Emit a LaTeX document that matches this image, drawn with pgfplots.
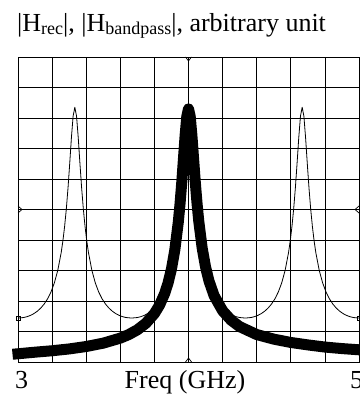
\documentclass[border=0pt]{standalone}
\usepackage{pgfplots}
\pgfplotsset{compat=1.18}
\usepackage{fontspec}
\setmainfont{Liberation Serif}
\newcommand{\sub}[1]{\raisebox{-3pt}{\fontsize{18}{18}\selectfont #1}}
\begin{document}
\begin{tikzpicture}
\begin{axis}[
  at={(0,0)}, anchor=south west,
  scale only axis, width=341pt, height=305pt,
  xmin=3, xmax=5, ymin=0, ymax=10,
  xtick={3,3.2,3.4,3.6,3.8,4,4.2,4.4,4.6,4.8,5},
  ytick={0,1,2,3,4,5,6,7,8,9,10},
  xticklabels={}, yticklabels={},
  major tick length=0pt,
  grid=major,
  major grid style={black, line width=0.8pt},
  axis line style={black, line width=0.9pt},
  clip=false,
]
% thin curve (|H_rec|)
\addplot[black, line width=0.8pt, line join=round] coordinates {
(3.0000,1.4405)(3.0333,1.458)(3.0533,1.486)(3.0733,1.528)(3.0933,1.587)(3.1133,1.665)
(3.1333,1.767)(3.1533,1.899)(3.1733,2.070)(3.1933,2.294)(3.2133,2.594)(3.2333,3.005)
(3.2533,3.587)(3.2633,3.971)(3.2733,4.440)(3.2833,5.011)(3.2933,5.702)(3.3033,6.506)
(3.3133,7.355)(3.3233,8.064)(3.3333,8.35)(3.3433,8.064)(3.3533,7.355)(3.3633,6.506)
(3.3733,5.702)(3.3833,5.011)(3.3933,4.440)(3.4033,3.971)(3.4133,3.587)(3.4333,3.005)
(3.4533,2.594)(3.4733,2.294)(3.4933,2.070)(3.5133,1.899)(3.5333,1.767)(3.5533,1.665)
(3.5733,1.587)(3.5933,1.528)(3.6133,1.486)(3.6333,1.458)(3.6667,1.4405)
(3.7000,1.458)(3.7200,1.486)(3.7400,1.528)(3.7600,1.587)(3.7800,1.665)(3.8000,1.767)
(3.8200,1.899)(3.8400,2.070)(3.8600,2.294)(3.8800,2.594)(3.9000,3.005)(3.9200,3.587)
(3.9300,3.971)(3.9400,4.440)(3.9500,5.011)(3.9600,5.702)(3.9700,6.506)(3.9800,7.355)
(3.9900,8.064)(4.0000,8.35)(4.0100,8.064)(4.0200,7.355)(4.0300,6.506)(4.0400,5.702)
(4.0500,5.011)(4.0600,4.440)(4.0700,3.971)(4.0800,3.587)(4.1000,3.005)(4.1200,2.594)
(4.1400,2.294)(4.1600,2.070)(4.1800,1.899)(4.2000,1.767)(4.2200,1.665)(4.2400,1.587)
(4.2600,1.528)(4.2800,1.486)(4.3000,1.458)(4.3333,1.4405)
(4.3667,1.458)(4.3867,1.486)(4.4067,1.528)(4.4267,1.587)(4.4467,1.665)(4.4667,1.767)
(4.4867,1.899)(4.5067,2.070)(4.5267,2.294)(4.5467,2.594)(4.5667,3.005)(4.5867,3.587)
(4.5967,3.971)(4.6067,4.440)(4.6167,5.011)(4.6267,5.702)(4.6367,6.506)(4.6467,7.355)
(4.6567,8.064)(4.6667,8.35)(4.6767,8.064)(4.6867,7.355)(4.6967,6.506)(4.7067,5.702)
(4.7167,5.011)(4.7267,4.440)(4.7367,3.971)(4.7467,3.587)(4.7667,3.005)(4.7867,2.594)
(4.8067,2.294)(4.8267,2.070)(4.8467,1.899)(4.8667,1.767)(4.8867,1.665)(4.9067,1.587)
(4.9267,1.528)(4.9467,1.486)(4.9667,1.458)(5.0000,1.4405)
};
% end markers of thin curve
\addplot[black, only marks, mark=square, mark size=2pt, mark options={line width=0.6pt, fill=white}] coordinates {(3,1.4405)(5,1.4405)};
% thick curve (|H_bandpass|)
\addplot[black, line width=11pt, line join=round, line cap=rect] coordinates {
(3.00,0.27)(3.10,0.322)(3.20,0.369)(3.30,0.428)(3.40,0.508)(3.50,0.618)(3.60,0.783)
(3.65,0.900)(3.70,1.055)(3.75,1.270)(3.80,1.588)(3.83,1.862)(3.86,2.243)(3.88,2.589)
(3.90,3.049)(3.92,3.682)(3.94,4.580)(3.95,5.165)(3.96,5.854)(3.97,6.630)(3.98,7.420)
(3.99,8.051)(4.00,8.30)(4.01,8.054)(4.02,7.427)(4.03,6.650)(4.04,5.884)(4.05,5.204)
(4.06,4.628)(4.08,3.741)(4.10,3.115)(4.12,2.659)(4.15,2.176)(4.20,1.680)(4.25,1.370)
(4.30,1.160)(4.40,0.900)(4.50,0.750)(4.60,0.640)(4.70,0.560)(4.80,0.490)(4.90,0.440)
(5.00,0.400)
};
% reference chevrons
\draw[black, line width=0.7pt] ([xshift=-3pt]axis cs:4,10) -- ([yshift=-4pt]axis cs:4,10) -- ([xshift=3pt]axis cs:4,10);
\draw[black, line width=0.7pt] ([xshift=-3pt]axis cs:4,0) -- ([yshift=4pt]axis cs:4,0) -- ([xshift=3pt]axis cs:4,0);
\draw[black, line width=0.7pt] ([yshift=3.5pt]axis cs:3,5) -- ([xshift=4pt]axis cs:3,5) -- ([yshift=-3.5pt]axis cs:3,5);
\draw[black, line width=0.7pt] ([yshift=3.5pt]axis cs:5,5) -- ([xshift=-4pt]axis cs:5,5) -- ([yshift=-3.5pt]axis cs:5,5);
\end{axis}
\node[anchor=base west, inner sep=0pt, font=\fontsize{26}{30}\selectfont] at (-1pt,330pt) {|H\sub{rec}|, |H\sub{bandpass}|, arbitrary unit};
\node[anchor=base west, inner sep=0pt, font=\fontsize{26}{30}\selectfont] at (-3pt,-26pt) {3};
\node[anchor=base west, inner sep=0pt, font=\fontsize{26}{30}\selectfont] at (332pt,-26pt) {5};
\node[anchor=base, inner sep=0pt, font=\fontsize{26}{30}\selectfont] at (167pt,-26pt) {Freq (GHz)};
\pgfresetboundingbox
\useasboundingbox (-18pt,-34pt) rectangle (341pt,362pt);
\end{tikzpicture}
\end{document}
